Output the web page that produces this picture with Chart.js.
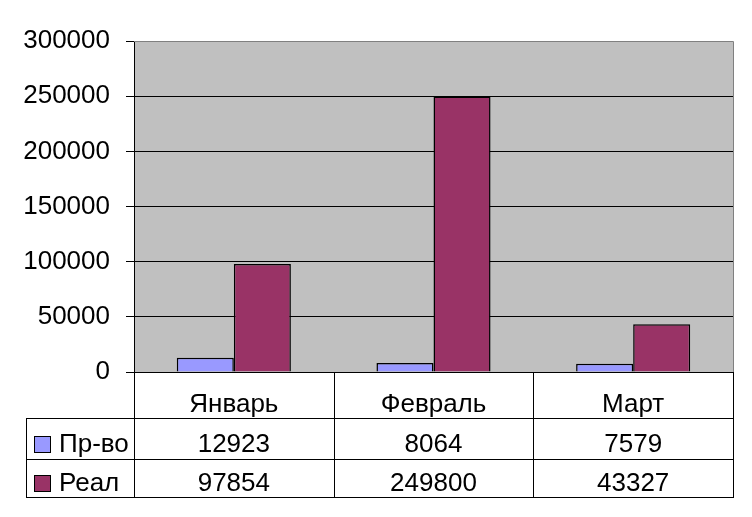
<!DOCTYPE html>
<html>
<head>
<meta charset="utf-8">
<script src="https://cdn.jsdelivr.net/npm/chart.js@4"></script>
<style>
  html, body { margin: 0; padding: 0; background: #fff; }
  #wrap { width: 752px; height: 517px; }
</style>
</head>
<body>
<div id="wrap"><canvas id="graph" width="752" height="517"></canvas></div>
<script>
// data
const months = ['Январь', 'Февраль', 'Март'];
const seriesNames = ['Пр-во', 'Реал'];
const prvo = [12923, 8064, 7579];
const real = [97854, 249800, 43327];
const yTicks = [0, 50000, 100000, 150000, 200000, 250000, 300000];
const colors = ['#9999FF', '#993366'];

const FONT = '"Liberation Sans", Arial, sans-serif';
const FSIZE = 26;

// grey plot area + the data table under the axis
const tablePlugin = {
    id: 'tablePlugin',
    beforeDraw(chart) {
        const a = chart.chartArea;
        const c = chart.ctx;
        c.save();
        c.fillStyle = '#C0C0C0';
        c.fillRect(a.left, a.top, a.right - a.left, a.bottom - a.top);
        c.restore();
    },
    afterDraw(chart) {
        const a = chart.chartArea;
        const x = chart.scales.x;
        const c = chart.ctx;
        const rowTop = x.bottom;        // 418
        const rows = [rowTop, rowTop + 41, rowTop + 79];
        const tableLeft = 26;
        c.save();
        c.strokeStyle = '#808080';
        c.lineWidth = 1;
        c.beginPath();
        c.moveTo(a.left, a.top + 0.5);
        c.lineTo(a.right + 0.5, a.top + 0.5);
        c.lineTo(a.right + 0.5, a.bottom);
        c.stroke();

        c.strokeStyle = '#000';
        c.beginPath();
        for (const r of rows) {
            c.moveTo(tableLeft, r + 0.5);
            c.lineTo(a.right + 1, r + 0.5);
        }
        c.moveTo(tableLeft + 0.5, rows[0]);
        c.lineTo(tableLeft + 0.5, rows[2] + 1);
        // column edges
        const edges = [a.left];
        for (let i = 0; i < months.length - 1; i++) {
            edges.push((x.getPixelForValue(i) + x.getPixelForValue(i + 1)) / 2);
        }
        edges.push(a.right);
        for (const e of edges) {
            const px = Math.round(e) + 0.5;
            c.moveTo(px, a.bottom);
            c.lineTo(px, rows[2] + 1);
        }
        c.stroke();

        c.font = FSIZE + 'px ' + FONT;
        c.fillStyle = '#000';
        c.textBaseline = 'alphabetic';
        const data = [prvo, real];
        const baselines = [rows[0] + 34, rows[1] + 32];
        for (let s = 0; s < data.length; s++) {
            c.textAlign = 'center';
            for (let i = 0; i < months.length; i++) {
                c.fillText(String(data[s][i]), x.getPixelForValue(i), baselines[s]);
            }
            // legend key
            const sqTop = baselines[s] - 16;
            c.fillStyle = colors[s];
            c.fillRect(34, sqTop, 16, 16);
            c.strokeStyle = '#000';
            c.strokeRect(34.5, sqTop + 0.5, 16, 16);
            c.fillStyle = '#000';
            c.textAlign = 'left';
            c.fillText(seriesNames[s], 59, baselines[s]);
        }
        c.restore();
    }
};

const ctx = document.getElementById('graph');
const config = {
    type: 'bar',
    data: {
        labels: months,
        datasets: [
            { label: seriesNames[0], data: prvo, backgroundColor: colors[0], borderColor: '#000', borderWidth: 1.5, inflateAmount: 0 },
            { label: seriesNames[1], data: real, backgroundColor: colors[1], borderColor: '#000', borderWidth: 1.5, inflateAmount: 0 }
        ]
    },
    options: {
        responsive: false,
        animation: false,
        devicePixelRatio: 1,
        layout: { padding: { left: 0, right: 19, top: 41, bottom: 99 } },
        datasets: { bar: { categoryPercentage: 2 / 3.5, barPercentage: 1 } },
        plugins: { legend: { display: false }, tooltip: { enabled: false } },
        scales: {
            x: {
                afterFit(scale) { scale.height = 46; },
                grid: { display: false },
                border: { display: true, color: '#000', width: 1 },
                ticks: { color: '#000', font: { family: FONT, size: FSIZE }, padding: 9 }
            },
            y: {
                min: 0,
                max: 300000,
                afterFit(scale) { scale.width = 134; },
                afterBuildTicks(scale) { scale.ticks = yTicks.map(v => ({ value: v })); },
                grid: {
                    color: (c) => (c.tick && c.tick.value === 300000) ? '#808080' : '#000',
                    tickColor: '#000',
                    tickLength: 8,
                    lineWidth: 1
                },
                border: { display: true, color: '#000', width: 1 },
                ticks: {
                    color: '#000',
                    font: { family: FONT, size: FSIZE },
                    padding: 16,
                    callback: (v) => String(v)
                }
            }
        }
    },
    plugins: [tablePlugin]
};
var chart = new Chart(ctx, config);
</script>
</body>
</html>
